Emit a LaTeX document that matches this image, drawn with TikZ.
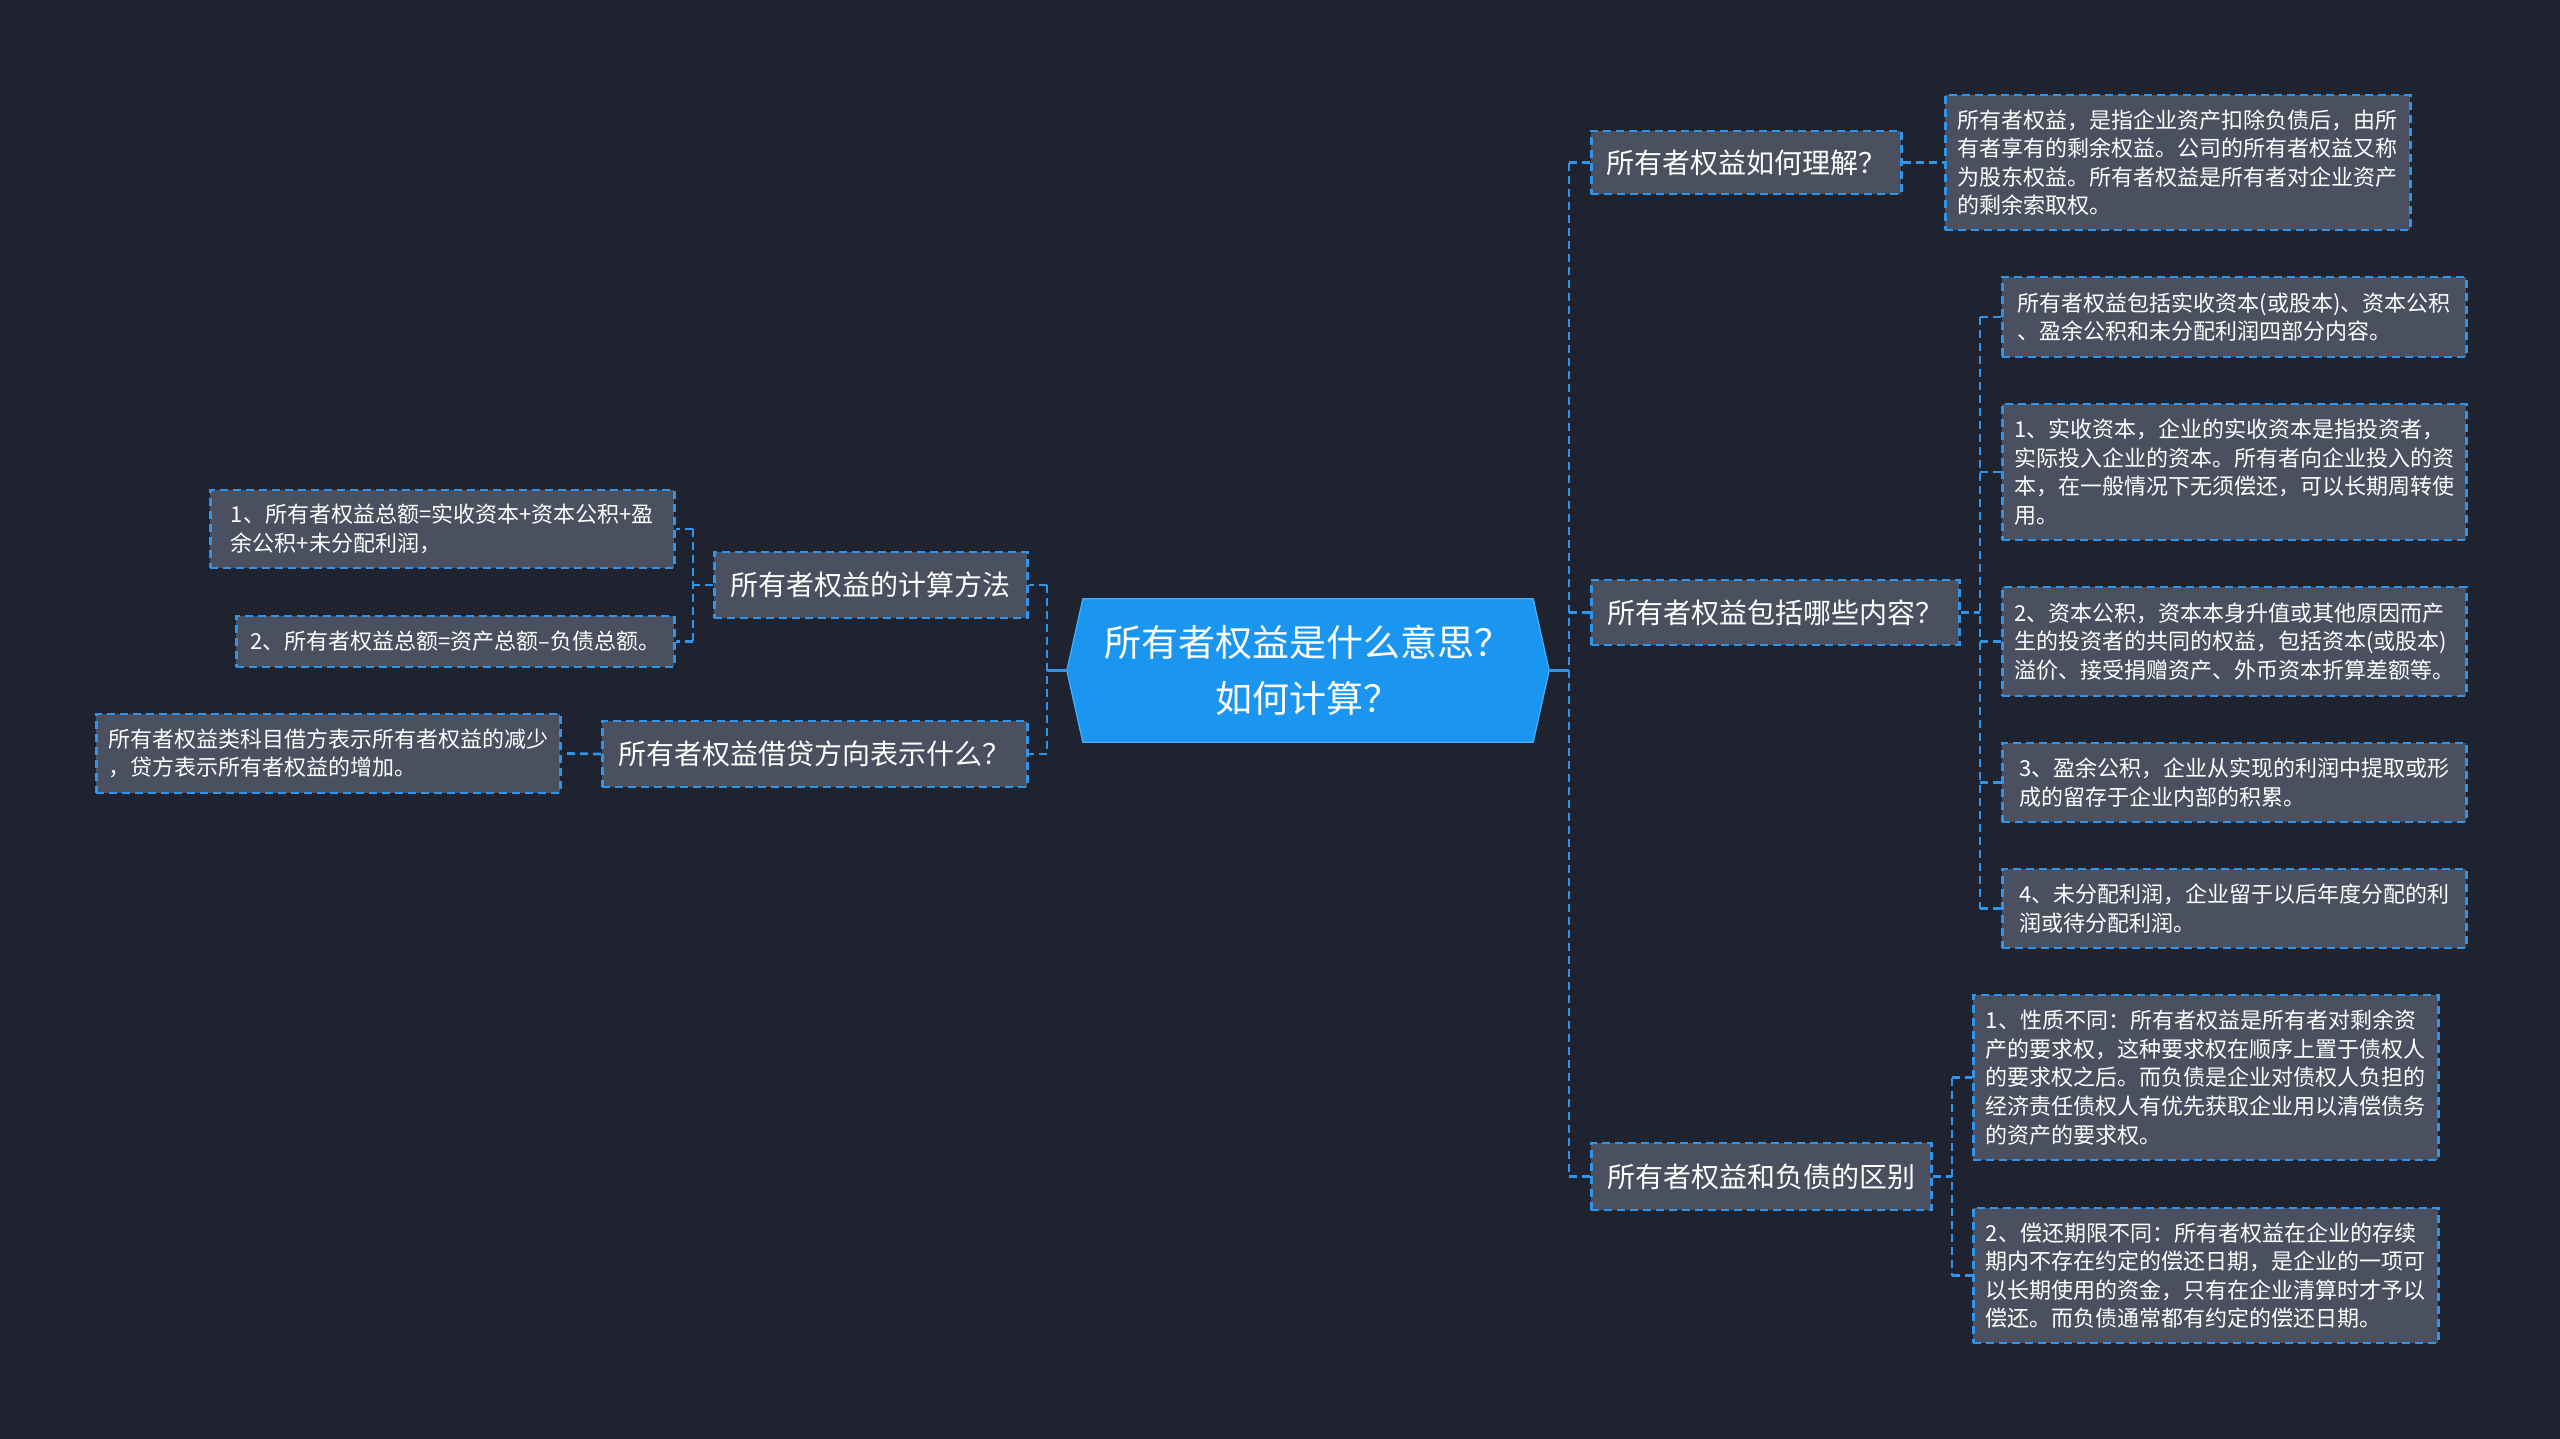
\documentclass[tikz,border=0pt]{standalone}
\usepackage{fontspec}
\setmainfont{Noto Sans CJK SC}
\usetikzlibrary{backgrounds}
\definecolor{bgc}{RGB}{31,35,48}
\definecolor{boxc}{RGB}{74,80,96}
\definecolor{linec}{RGB}{45,150,236}
\definecolor{cenc}{RGB}{27,150,240}
\definecolor{cenb}{RGB}{70,175,250}
\begin{document}
\begin{tikzpicture}[x=1pt,y=-1pt,
  dsh/.style={dash pattern=on 8pt off 5pt},
  mbox/.style={draw=linec, fill=boxc, line width=2.8pt, dsh, text=white, anchor=west, align=left, inner sep=0pt},
  leaf/.style={mbox, font=\fontsize{22}{28.6}\selectfont},
  topic/.style={mbox, font=\fontsize{28}{34}\selectfont},
  link/.style={draw=linec, line width=2.8pt, dsh},
  slink/.style={draw=linec, line width=2.8pt}]
\useasboundingbox (0,0) rectangle (2560,1438);
\begin{scope}[on background layer]
\fill[bgc] (-20,-20) rectangle (2580,1460);
\end{scope}

% central node
\node[text=white, font=\fontsize{37}{56}\selectfont, align=center, minimum width=450pt, minimum height=143pt, inner sep=0pt] (c) at (1308,670.5) {所有者权益是什么意思？\\如何计算？};
\begin{scope}[on background layer]
\filldraw[fill=cenc, draw=cenb, line width=1.2pt] (c.north west) -- (c.north east) -- ([xshift=16pt]c.east) -- (c.south east) -- (c.south west) -- ([xshift=-16pt]c.west) -- cycle;
\end{scope}
\coordinate (cL) at ([xshift=-16pt]c.west);
\coordinate (cR) at ([xshift=16pt]c.east);

% right topics
\node[topic, minimum width=310pt, minimum height=63pt] (R1) at (1590,162.5) {所有者权益如何理解？};
\node[topic, minimum width=368pt, minimum height=65pt] (R2) at (1590,612.5) {所有者权益包括哪些内容？};
\node[topic, minimum width=340pt, minimum height=67pt] (R3) at (1590,1176.5) {所有者权益和负债的区别};

% left topics
\node[topic, minimum width=313pt, minimum height=66pt] (L1) at (713,585) {所有者权益的计算方法};
\node[topic, minimum width=425pt, minimum height=66pt] (L2) at (601,754) {所有者权益借贷方向表示什么？};

% right leaves
\node[leaf, minimum width=465pt, minimum height=135pt] (a1) at (1944,162.5) {所有者权益，是指企业资产扣除负债后，由所\\有者享有的剩余权益。公司的所有者权益又称\\为股东权益。所有者权益是所有者对企业资产\\的剩余索取权。};
\node[leaf, minimum width=464pt, minimum height=80pt] (c1) at (2001,317) {所有者权益包括实收资本(或股本)、资本公积\\、盈余公积和未分配利润四部分内容。};
\node[leaf, minimum width=464pt, minimum height=136pt] (c2) at (2001,472) {1、实收资本，企业的实收资本是指投资者，\\实际投入企业的资本。所有者向企业投入的资\\本，在一般情况下无须偿还，可以长期周转使\\用。};
\node[leaf, minimum width=464pt, minimum height=109pt] (c3) at (2001,641.5) {2、资本公积，资本本身升值或其他原因而产\\生的投资者的共同的权益，包括资本(或股本)\\溢价、接受捐赠资产、外币资本折算差额等。};
\node[leaf, minimum width=464pt, minimum height=79pt] (c4) at (2001,782.5) {3、盈余公积，企业从实现的利润中提取或形\\成的留存于企业内部的积累。};
\node[leaf, minimum width=464pt, minimum height=79pt] (c5) at (2001,908.5) {4、未分配利润，企业留于以后年度分配的利\\润或待分配利润。};
\node[leaf, minimum width=465pt, minimum height=165pt] (d1) at (1972,1077.5) {1、性质不同：所有者权益是所有者对剩余资\\产的要求权，这种要求权在顺序上置于债权人\\的要求权之后。而负债是企业对债权人负担的\\经济责任债权人有优先获取企业用以清偿债务\\的资产的要求权。};
\node[leaf, minimum width=465pt, minimum height=135pt] (d2) at (1972,1275.5) {2、偿还期限不同：所有者权益在企业的存续\\期内不存在约定的偿还日期，是企业的一项可\\以长期使用的资金，只有在企业清算时才予以\\偿还。而负债通常都有约定的偿还日期。};

% left leaves
\node[leaf, minimum width=464pt, minimum height=78pt] (e1) at (209,529) {1、所有者权益总额=实收资本+资本公积+盈\\余公积+未分配利润，};
\node[leaf, minimum width=438pt, minimum height=51pt] (e2) at (235,641.5) {2、所有者权益总额=资产总额–负债总额。};
\node[leaf, minimum width=464pt, minimum height=79pt] (f1) at (95,753.5) {所有者权益类科目借方表示所有者权益的减少\\，贷方表示所有者权益的增加。};

% right connectors
\coordinate (rb) at (1569,670.5);
\draw[slink] (cR) -- (rb);
\draw[link] (rb |- R1.west) -- (rb |- R3.west);
\foreach \n in {R1,R2,R3} \draw[link] (rb |- \n.west) -- (\n.west);
\draw[link] (R1.east) -- (a1.west);
\coordinate (b2) at (1980,612.5);
\draw[link] (R2.east) -- (b2);
\draw[link] (b2 |- c1.west) -- (b2 |- c5.west);
\foreach \n in {c1,c2,c3,c4,c5} \draw[link] (b2 |- \n.west) -- (\n.west);
\coordinate (b3) at (1952,1176.5);
\draw[link] (R3.east) -- (b3);
\draw[link] (b3 |- d1.west) -- (b3 |- d2.west);
\foreach \n in {d1,d2} \draw[link] (b3 |- \n.west) -- (\n.west);

% left connectors
\coordinate (lb) at (1047,670.5);
\draw[slink] (cL) -- (lb);
\draw[link] (lb |- L1.east) -- (lb |- L2.east);
\foreach \n in {L1,L2} \draw[link] (lb |- \n.east) -- (\n.east);
\coordinate (b4) at (693,585);
\draw[link] (L1.west) -- (b4);
\draw[link] (b4 |- e1.east) -- (b4 |- e2.east);
\foreach \n in {e1,e2} \draw[link] (b4 |- \n.east) -- (\n.east);
\draw[link] (L2.west) -- (f1.east);
\end{tikzpicture}
\end{document}
